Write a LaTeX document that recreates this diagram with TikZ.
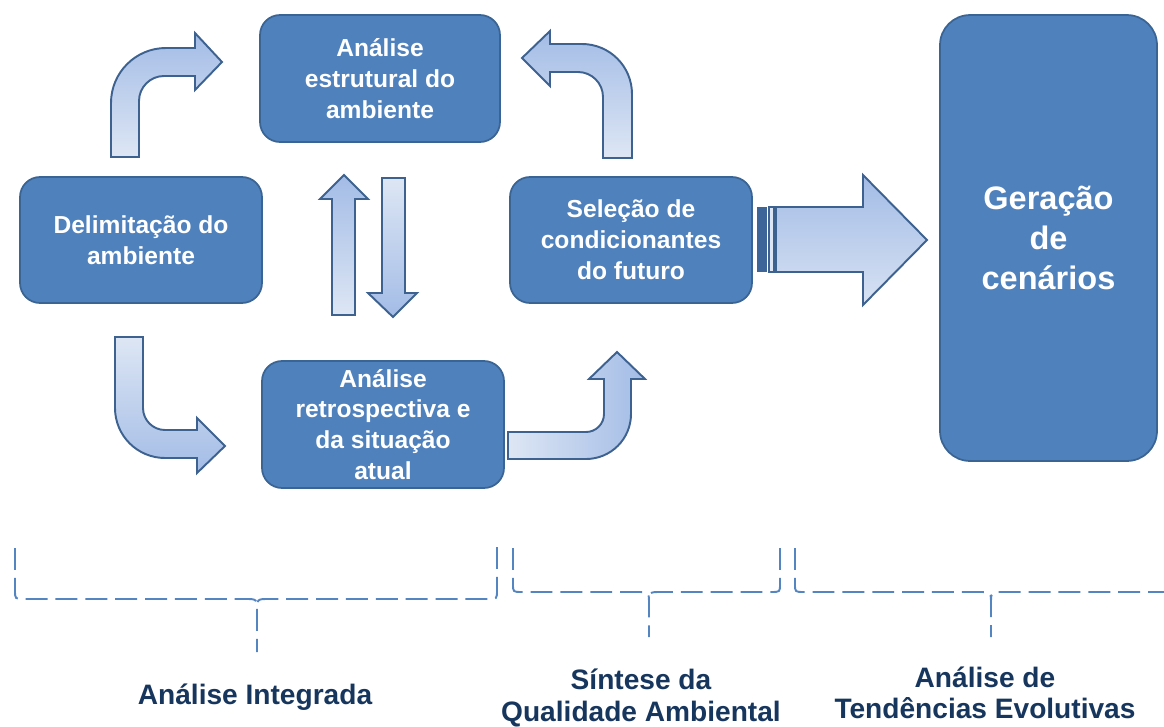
\documentclass[tikz,border=0pt]{standalone}
\usepackage{fontspec}
\setmainfont{Liberation Sans}
\definecolor{boxfill}{HTML}{4F81BD}
\definecolor{boxline}{HTML}{3A6493}
\definecolor{arrlight}{HTML}{DDE6F4}
\definecolor{arrdark}{HTML}{A3BCE6}
\definecolor{arrline}{HTML}{3D6290}
\definecolor{bracecol}{HTML}{5585C0}
\definecolor{labelcol}{HTML}{17365D}
\definecolor{stripedark}{HTML}{3E6598}
\begin{document}
\begin{tikzpicture}[x=0.02cm,y=-0.02cm,
  blockbox/.style={draw=boxline, line width=1pt, fill=boxfill, rounded corners=0.4cm,
    text=white, align=center, font=\bfseries\fontsize{14}{17.6}\selectfont, inner sep=0pt},
  bigbox/.style={draw=boxline, line width=1pt, fill=boxfill, rounded corners=0.6cm,
    text=white, align=center, font=\bfseries\fontsize{18.5}{22.7}\selectfont, inner sep=0pt},
  blockarrow/.style={draw=arrline, line width=1.1pt, line join=miter},
  bracestyle/.style={draw=bracecol, line width=1.1pt, dash pattern=on 12.5pt off 4.5pt},
  steplabel/.style={text=labelcol, align=center, font=\bfseries\fontsize{16}{17.8}\selectfont, inner sep=0pt}
]
\useasboundingbox (0,0) rectangle (1164,727);

% bent arrows
\path[blockarrow, top color=arrdark, bottom color=arrlight]
  (111,157) -- (111,103) .. controls (111,72.6) and (135.6,48) .. (166,48)
  -- (195,48) -- (195,33) -- (222,62) -- (195,90) -- (195,76) -- (164,76)
  .. controls (150.2,76) and (139,87.2) .. (139,101) -- (139,157) -- cycle;
\path[blockarrow, top color=arrdark, bottom color=arrlight]
  (632,158) -- (632,94) .. controls (632,66.4) and (609.6,44) .. (582,44)
  -- (550,44) -- (550,31) -- (522,58) -- (550,86) -- (550,72) -- (578,72)
  .. controls (591.8,72) and (603,83.2) .. (603,97) -- (603,158) -- cycle;
\path[blockarrow, top color=arrlight, bottom color=arrdark]
  (115,337) -- (115,408) .. controls (115,435.6) and (137.4,458) .. (165,458)
  -- (197,458) -- (197,473) -- (225,446) -- (197,418) -- (197,430) -- (165,430)
  .. controls (152.9,430) and (143,420.1) .. (143,408) -- (143,337) -- cycle;
\path[blockarrow, left color=arrlight, right color=arrdark]
  (508,432) -- (586,432) .. controls (595.9,432) and (604,423.9) .. (604,414)
  -- (604,379) -- (589,379) -- (617,352) -- (645,379) -- (631,379) -- (631,414)
  .. controls (631,438.9) and (610.9,459) .. (586,459) -- (508,459) -- cycle;

% vertical arrows
\path[blockarrow, top color=arrdark, bottom color=arrlight]
  (332,315) -- (332,199) -- (320,199) -- (344,175) -- (368,199) -- (355,199) -- (355,315) -- cycle;
\path[blockarrow, top color=arrlight, bottom color=arrdark]
  (382,178) -- (382,293) -- (368,293) -- (393,317) -- (417,293) -- (405,293) -- (405,178) -- cycle;

% big arrow
\fill[stripedark] (757,207) rectangle (767,272);
\path[draw=arrline, line width=1pt, fill=arrlight] (769,207) rectangle (774,272);
\path[blockarrow, top color=arrdark, bottom color=arrlight!90!arrdark]
  (776,207) -- (863,207) -- (863,175) -- (927,240) -- (863,305) -- (863,272) -- (776,272) -- cycle;

% boxes
\node[blockbox, minimum width=4.8cm, minimum height=2.54cm] (estr) at (380,78.5)
  {Análise\\estrutural do\\ambiente};
\node[blockbox, minimum width=4.84cm, minimum height=2.52cm] (delim) at (141,240)
  {Delimitação do\\ambiente};
\node[blockbox, minimum width=4.84cm, minimum height=2.52cm] (sel) at (631,240)
  {Seleção de\\condicionantes\\do futuro};
\node[blockbox, minimum width=4.84cm, minimum height=2.54cm] (retro) at (383,424.5)
  {Análise\\retrospectiva e\\da situação\\atual};
\node[bigbox, minimum width=4.34cm, minimum height=8.92cm] (ger) at (1048.5,238)
  {Geração\\de\\cenários};

% braces
\path[bracestyle] (15,548) -- (15,590) .. controls (15,599) .. (24,599) -- (245,599)
  .. controls (257,599) .. (257,611) -- (257,652);
\path[bracestyle] (497,547) -- (497,590) .. controls (497,599) .. (488,599) -- (269,599)
  .. controls (257,599) .. (257,611);
\path[bracestyle] (513,548) -- (513,584) .. controls (513,592) .. (522,592) -- (637,592)
  .. controls (649,592) .. (649,604) -- (649,637);
\path[bracestyle] (780,548) -- (780,584) .. controls (780,592) .. (771,592) -- (661,592)
  .. controls (649,592) .. (649,604);
\path[bracestyle] (795,548) -- (795,584) .. controls (795,592) .. (804,592) -- (979,592)
  .. controls (991,592) .. (991,604) -- (991,637);
\path[bracestyle] (1170,592) -- (1003,592) .. controls (991,592) .. (991,604);

% labels
\node[steplabel] (lab1) at (255,697) {Análise Integrada};
\node[steplabel] (lab2) at (641,698) {Síntese da\\Qualidade Ambiental};
\node[steplabel] (lab3) at (985,693) {Análise de\\Tendências Evolutivas};
\end{tikzpicture}
\end{document}
